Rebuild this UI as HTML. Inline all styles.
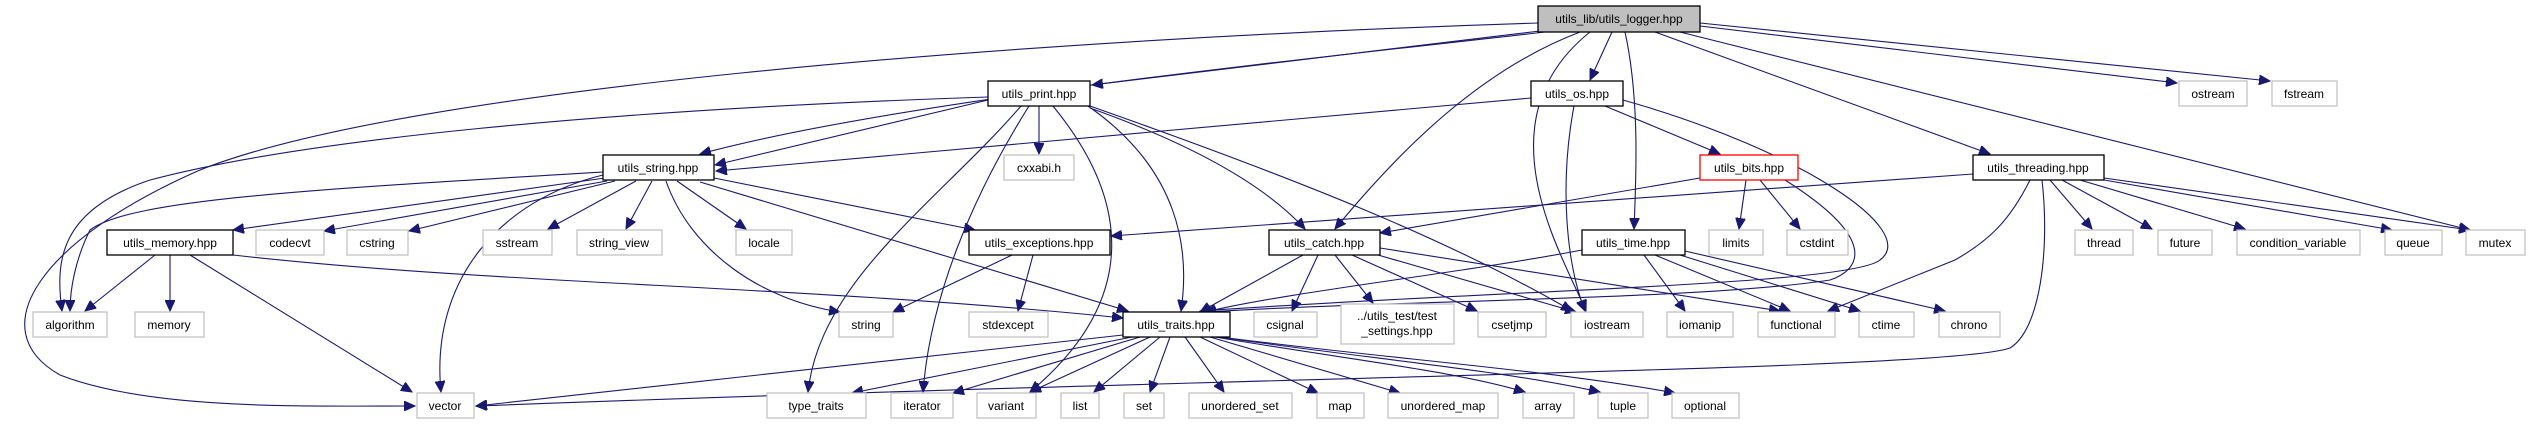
<!DOCTYPE html>
<html><head><meta charset="utf-8"><style>
html,body{margin:0;padding:0;background:#fff;}
svg{display:block}
text{font-family:"Liberation Sans",sans-serif;font-size:12px;fill:#000;text-anchor:middle}
.n rect{fill:#fff;stroke:#000;stroke-width:1.3}
.s rect{fill:#fff;stroke:#bfbfbf;stroke-width:1.2}
.e path{fill:none;stroke:#191970;stroke-width:1.1}
</style></head><body>
<svg width="2531" height="425" viewBox="0 0 2531 425" xmlns="http://www.w3.org/2000/svg">
<defs><marker id="a" markerUnits="userSpaceOnUse" markerWidth="12" markerHeight="10" refX="11" refY="5" orient="auto"><path d="M0,0 L11,5 L0,10 z" fill="#191970" stroke="#191970"/></marker></defs>
<g class="e" marker-end="url(#a)">
<path marker-end="url(#a)" d="M1538,23 C1000,40 400,90 200,170 C40,240 -20,330 60,375 C150,410 300,406 415,406"/>
<path marker-end="url(#a)" d="M1540,31 L1092,85"/>
<path marker-end="url(#a)" d="M1545,32 C1300,60 900,100 700,154"/>
<path marker-end="url(#a)" d="M1612,32 L1590,80"/>
<path marker-end="url(#a)" d="M1580,32 C1480,70 1400,150 1335,229"/>
<path marker-end="url(#a)" d="M1590,32 C1480,120 1560,250 1586,311"/>
<path marker-end="url(#a)" d="M1625,32 C1640,100 1636,180 1634,229"/>
<path marker-end="url(#a)" d="M1655,32 L1990,154"/>
<path marker-end="url(#a)" d="M1680,32 L2470,230"/>
<path marker-end="url(#a)" d="M1700,26 L2177,83"/>
<path marker-end="url(#a)" d="M1700,23 L2270,81"/>
<path marker-end="url(#a)" d="M988,100 L715,165"/>
<path marker-end="url(#a)" d="M988,97 C600,110 300,140 150,180 C60,210 55,260 62,311"/>
<path marker-end="url(#a)" d="M1039,106 L1039,154"/>
<path marker-end="url(#a)" d="M1053,106 C1130,200 1140,300 1030,392"/>
<path marker-end="url(#a)" d="M1088,106 C1180,170 1190,250 1181,311"/>
<path marker-end="url(#a)" d="M1029,106 C970,200 930,300 923,392"/>
<path marker-end="url(#a)" d="M1021,106 C940,200 820,280 808,392"/>
<path marker-end="url(#a)" d="M1090,108 C1180,140 1260,180 1305,229"/>
<path marker-end="url(#a)" d="M1090,106 C1300,180 1450,240 1572,311"/>
<path marker-end="url(#a)" d="M1531,98 L716,171"/>
<path marker-end="url(#a)" d="M1574,106 C1560,180 1565,260 1585,311"/>
<path marker-end="url(#a)" d="M1605,106 L1720,154"/>
<path marker-end="url(#a)" d="M1623,100 C1800,150 1920,230 1880,260 C1850,285 1500,290 1200,311"/>
<path marker-end="url(#a)" d="M1700,178 L1380,233"/>
<path marker-end="url(#a)" d="M1746,180 L1739,229"/>
<path marker-end="url(#a)" d="M1760,180 L1800,229"/>
<path marker-end="url(#a)" d="M1785,180 C1880,240 1860,270 1830,280 C1700,300 1400,300 1205,312"/>
<path marker-end="url(#a)" d="M1973,174 L1111,236"/>
<path marker-end="url(#a)" d="M2030,180 C2010,220 1990,240 1955,260 L1828,311"/>
<path marker-end="url(#a)" d="M2042,180 C2050,250 2040,330 2010,348 C1950,370 1300,375 476,406"/>
<path marker-end="url(#a)" d="M2050,180 L2092,229"/>
<path marker-end="url(#a)" d="M2062,180 L2152,229"/>
<path marker-end="url(#a)" d="M2080,180 L2245,229"/>
<path marker-end="url(#a)" d="M2104,180 L2392,230"/>
<path marker-end="url(#a)" d="M2104,178 L2470,230"/>
<path marker-end="url(#a)" d="M605,178 L233,230"/>
<path marker-end="url(#a)" d="M607,181 L324,231"/>
<path marker-end="url(#a)" d="M615,181 L409,231"/>
<path marker-end="url(#a)" d="M636,181 L548,229"/>
<path marker-end="url(#a)" d="M652,181 L626,229"/>
<path marker-end="url(#a)" d="M677,181 L746,229"/>
<path marker-end="url(#a)" d="M603,172 C300,190 130,200 90,230 C75,260 70,290 70,311"/>
<path marker-end="url(#a)" d="M603,175 C500,200 430,280 441,392"/>
<path marker-end="url(#a)" d="M666,181 C690,250 760,300 840,312"/>
<path marker-end="url(#a)" d="M714,178 L975,230"/>
<path marker-end="url(#a)" d="M700,182 L1128,311"/>
<path marker-end="url(#a)" d="M155,255 L85,311"/>
<path marker-end="url(#a)" d="M170,255 L170,311"/>
<path marker-end="url(#a)" d="M190,255 L412,392"/>
<path marker-end="url(#a)" d="M233,255 C500,285 800,285 1123,318"/>
<path marker-end="url(#a)" d="M1012,255 L893,312"/>
<path marker-end="url(#a)" d="M1033,255 L1018,311"/>
<path marker-end="url(#a)" d="M1303,255 L1200,312"/>
<path marker-end="url(#a)" d="M1318,255 L1292,311"/>
<path marker-end="url(#a)" d="M1335,255 L1373,303"/>
<path marker-end="url(#a)" d="M1352,255 L1477,311"/>
<path marker-end="url(#a)" d="M1378,255 L1576,312"/>
<path marker-end="url(#a)" d="M1380,248 L1780,311"/>
<path marker-end="url(#a)" d="M1582,250 C1450,275 1300,290 1205,312"/>
<path marker-end="url(#a)" d="M1644,255 L1685,311"/>
<path marker-end="url(#a)" d="M1655,255 L1790,311"/>
<path marker-end="url(#a)" d="M1680,255 L1860,311"/>
<path marker-end="url(#a)" d="M1685,251 L1945,311"/>
<path marker-end="url(#a)" d="M1123,335 L476,406"/>
<path marker-end="url(#a)" d="M1132,337 L852,393"/>
<path marker-end="url(#a)" d="M1140,337 L953,393"/>
<path marker-end="url(#a)" d="M1150,337 L1030,392"/>
<path marker-end="url(#a)" d="M1160,337 L1094,392"/>
<path marker-end="url(#a)" d="M1170,337 L1150,392"/>
<path marker-end="url(#a)" d="M1185,337 L1224,392"/>
<path marker-end="url(#a)" d="M1200,337 L1318,393"/>
<path marker-end="url(#a)" d="M1210,337 L1400,393"/>
<path marker-end="url(#a)" d="M1215,337 C1350,360 1450,370 1525,392"/>
<path marker-end="url(#a)" d="M1218,337 C1380,360 1500,370 1600,392"/>
<path marker-end="url(#a)" d="M1220,337 C1400,360 1550,370 1675,393"/>
</g>
<g class="n">
<rect x="1538" y="6" width="162" height="26" style="fill:#bfbfbf"/><text x="1619" y="23">utils_lib/utils_logger.hpp</text>
<rect x="988" y="81" width="102" height="25"/><text x="1039" y="98">utils_print.hpp</text>
<rect x="1531" y="81" width="92" height="25"/><text x="1577" y="98">utils_os.hpp</text>
<rect x="603" y="155" width="111" height="25"/><text x="658" y="172">utils_string.hpp</text>
<rect x="1700" y="155" width="98" height="25" style="stroke:#ff0000"/><text x="1749" y="172">utils_bits.hpp</text>
<rect x="1973" y="155" width="131" height="25"/><text x="2038" y="172">utils_threading.hpp</text>
<rect x="107" y="230" width="126" height="25"/><text x="170" y="247">utils_memory.hpp</text>
<rect x="969" y="230" width="141" height="25"/><text x="1039" y="247">utils_exceptions.hpp</text>
<rect x="1269" y="230" width="111" height="25"/><text x="1324" y="247">utils_catch.hpp</text>
<rect x="1582" y="230" width="103" height="25"/><text x="1633" y="247">utils_time.hpp</text>
<rect x="1123" y="312" width="107" height="25"/><text x="1176" y="329">utils_traits.hpp</text>
</g>
<g class="s">
<rect x="2179" y="81" width="68" height="25"/><text x="2213" y="98">ostream</text>
<rect x="2272" y="81" width="65" height="25"/><text x="2304" y="98">fstream</text>
<rect x="1004" y="155" width="70" height="25"/><text x="1039" y="172">cxxabi.h</text>
<rect x="256" y="230" width="68" height="25"/><text x="290" y="247">codecvt</text>
<rect x="347" y="230" width="61" height="25"/><text x="377" y="247">cstring</text>
<rect x="483" y="230" width="69" height="25"/><text x="517" y="247">sstream</text>
<rect x="577" y="230" width="85" height="25"/><text x="619" y="247">string_view</text>
<rect x="736" y="230" width="56" height="25"/><text x="764" y="247">locale</text>
<rect x="1709" y="230" width="54" height="25"/><text x="1736" y="247">limits</text>
<rect x="1787" y="230" width="61" height="25"/><text x="1817" y="247">cstdint</text>
<rect x="2075" y="230" width="58" height="25"/><text x="2104" y="247">thread</text>
<rect x="2158" y="230" width="54" height="25"/><text x="2185" y="247">future</text>
<rect x="2237" y="230" width="123" height="25"/><text x="2298" y="247">condition_variable</text>
<rect x="2385" y="230" width="57" height="25"/><text x="2413" y="247">queue</text>
<rect x="2466" y="230" width="59" height="25"/><text x="2495" y="247">mutex</text>
<rect x="33" y="312" width="74" height="25"/><text x="70" y="329">algorithm</text>
<rect x="135" y="312" width="69" height="25"/><text x="169" y="329">memory</text>
<rect x="839" y="312" width="54" height="25"/><text x="866" y="329">string</text>
<rect x="969" y="312" width="79" height="25"/><text x="1008" y="329">stdexcept</text>
<rect x="1254" y="312" width="63" height="25"/><text x="1285" y="329">csignal</text>
<rect x="1341" y="304" width="113" height="40"/><text x="1397" y="320">../utils_test/test</text><text x="1397" y="335">_settings.hpp</text>
<rect x="1478" y="312" width="68" height="25"/><text x="1512" y="329">csetjmp</text>
<rect x="1571" y="312" width="72" height="25"/><text x="1607" y="329">iostream</text>
<rect x="1667" y="312" width="66" height="25"/><text x="1700" y="329">iomanip</text>
<rect x="1758" y="312" width="77" height="25"/><text x="1796" y="329">functional</text>
<rect x="1859" y="312" width="55" height="25"/><text x="1886" y="329">ctime</text>
<rect x="1939" y="312" width="61" height="25"/><text x="1969" y="329">chrono</text>
<rect x="417" y="393" width="57" height="25"/><text x="445" y="410">vector</text>
<rect x="767" y="393" width="99" height="25"/><text x="816" y="410">type_traits</text>
<rect x="891" y="393" width="62" height="25"/><text x="922" y="410">iterator</text>
<rect x="977" y="393" width="59" height="25"/><text x="1006" y="410">variant</text>
<rect x="1061" y="393" width="38" height="25"/><text x="1080" y="410">list</text>
<rect x="1124" y="393" width="40" height="25"/><text x="1144" y="410">set</text>
<rect x="1189" y="393" width="103" height="25"/><text x="1240" y="410">unordered_set</text>
<rect x="1317" y="393" width="47" height="25"/><text x="1340" y="410">map</text>
<rect x="1388" y="393" width="110" height="25"/><text x="1443" y="410">unordered_map</text>
<rect x="1523" y="393" width="51" height="25"/><text x="1548" y="410">array</text>
<rect x="1598" y="393" width="50" height="25"/><text x="1623" y="410">tuple</text>
<rect x="1672" y="393" width="67" height="25"/><text x="1705" y="410">optional</text>
</g>
</svg>
</body></html>
